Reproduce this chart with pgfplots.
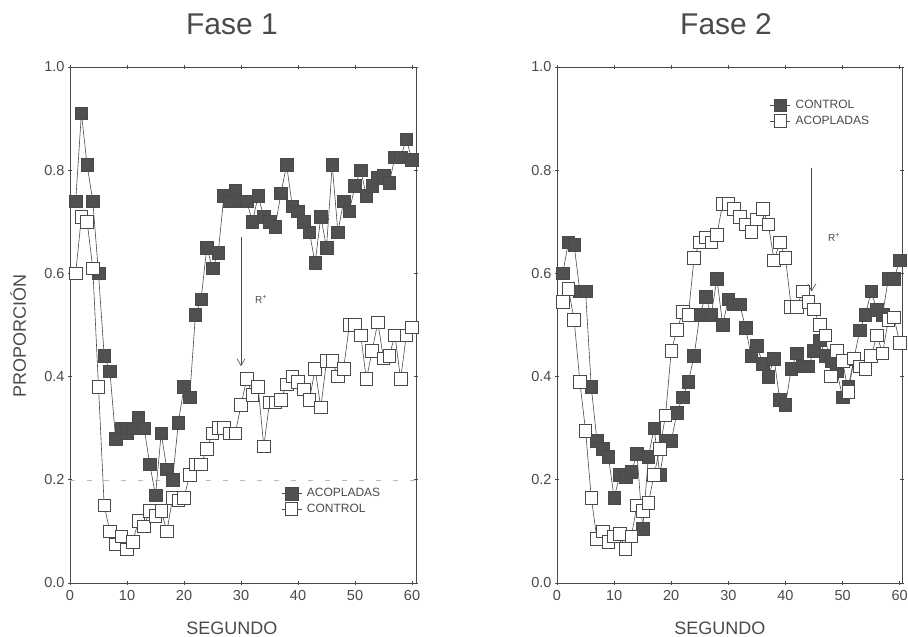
\documentclass[border=0pt]{standalone}
\usepackage{fontspec}
\setmainfont{Liberation Sans}
\usepackage{pgfplots}
\usepackage{pgfplotstable}
\pgfplotsset{compat=1.18}
\usetikzlibrary{arrows.meta}

\definecolor{ink}{HTML}{4A4A4A}
\definecolor{sqfill}{HTML}{505050}

% Fase 1: a = ACOPLADAS (filled), c = CONTROL (open)
\pgfplotstableread{
x a c
1 0.74 0.60
2 0.91 0.71
3 0.81 0.70
4 0.74 0.61
5 0.60 0.38
6 0.44 0.15
7 0.41 0.10
8 0.28 0.075
9 0.30 0.09
10 0.29 0.065
11 0.30 0.08
12 0.32 0.12
13 0.30 0.11
14 0.23 0.14
15 0.17 0.13
16 0.29 0.14
17 0.22 0.10
18 0.20 0.165
19 0.31 0.16
20 0.38 0.165
21 0.36 0.21
22 0.52 0.23
23 0.55 0.23
24 0.65 0.26
25 0.61 0.29
26 0.64 0.30
27 0.75 0.30
28 0.74 0.29
29 0.76 0.29
30 0.74 0.345
31 0.74 0.395
32 0.70 0.365
33 0.75 0.38
34 0.71 0.265
35 0.70 0.35
36 0.69 0.35
37 0.755 0.355
38 0.81 0.385
39 0.73 0.40
40 0.72 0.39
41 0.70 0.375
42 0.68 0.355
43 0.62 0.415
44 0.71 0.34
45 0.65 0.43
46 0.81 0.43
47 0.68 0.40
48 0.74 0.415
49 0.72 0.50
50 0.77 0.50
51 0.80 0.48
52 0.75 0.395
53 0.77 0.45
54 0.785 0.505
55 0.79 0.435
56 0.775 0.44
57 0.825 0.48
58 0.825 0.395
59 0.86 0.48
60 0.82 0.495
}\faseuno

% Fase 2: c = CONTROL (filled), a = ACOPLADAS (open)
\pgfplotstableread{
x c a
1 0.60 0.545
2 0.66 0.57
3 0.655 0.51
4 0.565 0.39
5 0.565 0.295
6 0.38 0.165
7 0.275 0.085
8 0.26 0.10
9 0.245 0.08
10 0.165 0.09
11 0.21 0.095
12 0.205 0.066
13 0.215 0.09
14 0.25 0.15
15 0.105 0.14
16 0.245 0.155
17 0.30 0.21
18 0.21 0.26
19 0.275 0.325
20 0.275 0.45
21 0.33 0.49
22 0.36 0.525
23 0.39 0.52
24 0.44 0.63
25 0.52 0.66
26 0.555 0.67
27 0.52 0.66
28 0.59 0.675
29 0.50 0.735
30 0.55 0.735
31 0.54 0.725
32 0.54 0.71
33 0.495 0.695
34 0.44 0.68
35 0.46 0.705
36 0.425 0.725
37 0.40 0.695
38 0.435 0.625
39 0.355 0.66
40 0.345 0.63
41 0.415 0.535
42 0.445 0.535
43 0.42 0.565
44 0.42 0.545
45 0.45 0.53
46 0.47 0.50
47 0.44 0.48
48 0.43 0.40
49 0.41 0.45
50 0.36 0.43
51 0.38 0.37
52 0.435 0.435
53 0.49 0.42
54 0.52 0.415
55 0.565 0.44
56 0.53 0.48
57 0.52 0.445
58 0.59 0.51
59 0.59 0.515
60 0.625 0.465
}\fasedos

\pgfplotsset{
  fase/.style={
    scale only axis, height=516pt,
    ymin=0, ymax=1,
    xtick={0,10,20,30,40,50,60},
    ytick={0,0.2,0.4,0.6,0.8,1.0},
    yticklabel style={/pgf/number format/.cd, fixed, fixed zerofill, precision=1},
    /pgf/number format/assume math mode=true,
    tick align=center, major tick length=4pt,
    axis line style={ink, line width=0.9pt},
    tick style={ink, line width=0.7pt},
    ticklabel style={font=\fontsize{14.5}{14.5}\selectfont, text=ink},
    xticklabel style={yshift=-2pt},
    xlabel={SEGUNDO},
    xlabel style={anchor=center, font=\fontsize{18}{18}\selectfont, text=ink},
    title style={font=\fontsize{30}{30}\selectfont, text=ink, anchor=center},
    legend style={draw=none, fill=none, font=\fontsize{12}{12}\selectfont,
      text=ink, row sep=3pt, inner sep=0pt,
      nodes={inner sep=1pt}},
    legend cell align=left,
    legend image code/.code={
      \draw[##1, mark repeat=2, mark phase=2]
        plot coordinates {(0pt,0pt) (10pt,0pt) (20pt,0pt)};},
  },
  llena/.style={ink, line width=0.6pt, mark=square*, mark size=6.3pt,
    mark options={fill=sqfill, draw=ink, line width=0.6pt}},
  vacia/.style={ink, line width=0.6pt, mark=square*, mark size=6.3pt,
    mark options={fill=white, draw=ink, line width=0.8pt}},
}

\begin{document}
\begin{tikzpicture}[x=1pt,y=1pt]
\useasboundingbox (0,0) rectangle (908,637);

\begin{axis}[fase, at={(70pt,54pt)}, anchor=south west,
  width=346pt, xmin=0, xmax=60.7,
  title={Fase 1}, title style={at={(axis description cs:0.468,1.072)}},
  xlabel style={at={(axis description cs:0.468,-0.087)}},
  ylabel={PROPORCIÓN},
  ylabel style={at={(axis description cs:-0.150,0.479)}, anchor=center,
    font=\fontsize{18}{18}\selectfont, text=ink},
  legend style={at={(axis description cs:0.61,0.186)}, anchor=north west},
]
\draw[gray!55, dash pattern=on 5pt off 12pt] (axis cs:0,0.2) -- (axis cs:60.7,0.2);
\addplot[llena] table[x=x, y=a] {\faseuno};
\addlegendentry{\hspace{4pt}ACOPLADAS}
\addplot[vacia] table[x=x, y=c] {\faseuno};
\addlegendentry{\hspace{4pt}CONTROL}
\draw[ink, line width=0.6pt, -{Straight Barb[length=7pt,width=8pt]}]
  (axis cs:30,0.67) -- (axis cs:30,0.42);
\node[font=\fontsize{10}{10}\selectfont, text=ink] at (axis cs:33.5,0.55) {R\textsuperscript{+}};
\end{axis}

\begin{axis}[fase, at={(557pt,54pt)}, anchor=south west,
  width=345pt, xmin=0, xmax=60.4,
  title={Fase 2}, title style={at={(axis description cs:0.49,1.072)}},
  xlabel style={at={(axis description cs:0.472,-0.087)}},
  legend style={at={(axis description cs:0.617,0.938)}, anchor=north west},
]
\addplot[llena] table[x=x, y=c] {\fasedos};
\addlegendentry{\hspace{4pt}CONTROL}
\addplot[vacia] table[x=x, y=a] {\fasedos};
\addlegendentry{\hspace{4pt}ACOPLADAS}
\draw[ink, line width=0.6pt, -{Straight Barb[length=7pt,width=8pt]}]
  (axis cs:44.6,0.805) -- (axis cs:44.6,0.565);
\node[font=\fontsize{10}{10}\selectfont, text=ink] at (axis cs:48.5,0.67) {R\textsuperscript{+}};
\end{axis}
\end{tikzpicture}
\end{document}
